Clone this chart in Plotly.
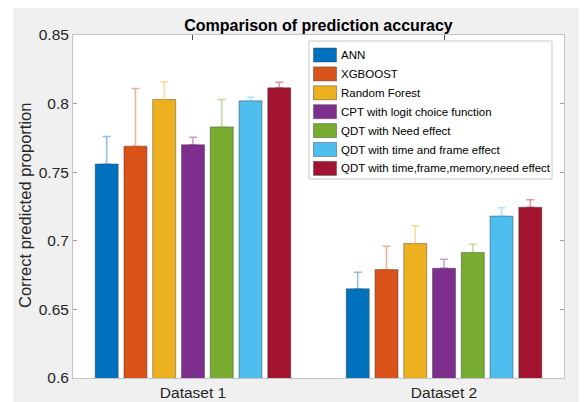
import plotly.graph_objects as go

# ---------------- data ----------------
datasets = ["Dataset 1", "Dataset 2"]
models = [
    "ANN",
    "XGBOOST",
    "Random Forest",
    "CPT with logit choice function",
    "QDT with Need effect",
    "QDT with time and frame effect",
    "QDT with time,frame,memory,need effect",
]
acc_ann = [0.756, 0.665]
acc_xgb = [0.769, 0.679]
acc_rf = [0.803, 0.698]
acc_cpt = [0.770, 0.680]
acc_qdt_need = [0.783, 0.6915]
acc_qdt_tf = [0.802, 0.718]
acc_qdt_all = [0.8115, 0.7245]

err_ann = [0.020, 0.012]
err_xgb = [0.042, 0.017]
err_rf = [0.013, 0.013]
err_cpt = [0.0055, 0.0065]
err_qdt_need = [0.020, 0.006]
err_qdt_tf = [0.0027, 0.006]
err_qdt_all = [0.004, 0.0055]

values = [acc_ann, acc_xgb, acc_rf, acc_cpt, acc_qdt_need, acc_qdt_tf, acc_qdt_all]
errors = [err_ann, err_xgb, err_rf, err_cpt, err_qdt_need, err_qdt_tf, err_qdt_all]

colors = ["#0072BD", "#D95319", "#EDB120", "#7E2F8E", "#77AC30", "#4DBEEE", "#A2142F"]

y_ticks = [0.6, 0.65, 0.7, 0.75, 0.8, 0.85]


def rgba(hexc, a):
    h = hexc.lstrip("#")
    r, g, b = int(h[0:2], 16), int(h[2:4], 16), int(h[4:6], 16)
    return f"rgba({r},{g},{b},{a})"


# ---------------- layout geometry ----------------
# The page body has an 8px margin, so the figure starts at (8, 8) in the window.
OFF = 8
WIN_W, WIN_H = 587, 402
FW, FH = WIN_W - OFF, WIN_H - OFF
# plot area in window pixels
WL, WR, WT, WB = 73, 564, 35, 378
L, R, T, B = WL - OFF, WR - OFF, WT - OFF, WB - OFF
PW, PH = R - L, B - T


def px(xw):
    return (xw - OFF - L) / PW


def py(yw):
    return (B - (yw - OFF)) / PH


FONT = "Liberation Sans, Arial, Helvetica, sans-serif"

fig = go.Figure()
for name, vals, errs, col in zip(models, values, errors, colors):
    fig.add_trace(
        go.Bar(
            x=datasets,
            y=vals,
            name=name,
            marker=dict(color=col, line=dict(color="rgba(60,60,60,0.45)", width=1)),
            error_y=dict(
                type="data",
                symmetric=False,
                array=errs,
                arrayminus=[0] * len(errs),
                color=rgba(col, 0.45),
                thickness=1.5,
                width=4,
            ),
            showlegend=False,
        )
    )

shapes = []
annotations = []

# white strip at the left (grey figure area starts at x=13 in window)
shapes.append(dict(type="rect", xref="paper", yref="paper", x0=px(OFF), x1=px(13), y0=py(WIN_H), y1=py(OFF),
                   fillcolor="white", line=dict(width=0), layer="below"))

# manual legend
lx0, lx1, ly0, ly1 = 309, 552, 41, 179
shapes.append(dict(type="rect", xref="paper", yref="paper", x0=px(lx0), x1=px(lx1), y0=py(ly1), y1=py(ly0),
                   fillcolor="white", line=dict(color="#c8c8c8", width=1), layer="above"))
row0, step = 55.0, 18.9
for i, (name, col) in enumerate(zip(models, colors)):
    cy = row0 + step * i
    shapes.append(dict(type="rect", xref="paper", yref="paper",
                       x0=px(313.5), x1=px(336.5), y0=py(cy + 7), y1=py(cy - 7),
                       fillcolor=col, line=dict(color="rgba(60,60,60,0.45)", width=1), layer="above"))
    annotations.append(dict(xref="paper", yref="paper", x=px(339), y=py(cy), text=name,
                            showarrow=False, xanchor="left", yanchor="middle",
                            font=dict(family=FONT, size=11.5, color="#000000")))

# y-axis title as annotation for exact placement
annotations.append(dict(xref="paper", yref="paper", x=px(25), y=py(206), text="Correct predicted proportion",
                        showarrow=False, xanchor="center", yanchor="middle", textangle=-90,
                        font=dict(family=FONT, size=16.5, color="#262626")))

fig.update_layout(
    width=FW,
    height=FH,
    margin=dict(l=L, r=FW - R, t=T, b=FH - B, pad=0, autoexpand=False),
    paper_bgcolor="#f0f0f0",
    plot_bgcolor="white",
    barmode="group",
    bargap=0.198,
    bargroupgap=0.2,
    font=dict(family=FONT, size=15.5, color="#262626"),
    title=dict(text="<b>Comparison of prediction accuracy</b>", x=(318.5 - OFF) / FW, xanchor="center",
               y=1 - (25 - OFF) / FH, yanchor="middle", automargin=False,
               font=dict(family=FONT, size=16, color="#000000")),
    shapes=shapes,
    annotations=annotations,
    showlegend=False,
)
fig.update_xaxes(
    type="category",
    automargin=False,
    range=[-0.478, 1.478],
    showline=True, linecolor="#c4c4c4", linewidth=1, mirror="ticks",
    ticks="inside", ticklen=5, tickcolor="#555555", tickwidth=1,
    showgrid=False, zeroline=False,
    tickfont=dict(family=FONT, size=15.5, color="#262626"),
)
fig.update_yaxes(
    automargin=False,
    range=[0.6, 0.85],
    tickvals=y_ticks,
    ticktext=[f"{v:g}" for v in y_ticks],
    showline=True, linecolor="#c4c4c4", linewidth=1, mirror="ticks",
    ticks="inside", ticklen=4, tickcolor="#a0a0a0", tickwidth=1,
    showgrid=False, zeroline=False,
    tickfont=dict(family=FONT, size=15.5, color="#262626"),
)

fig.write_html("out.html")
